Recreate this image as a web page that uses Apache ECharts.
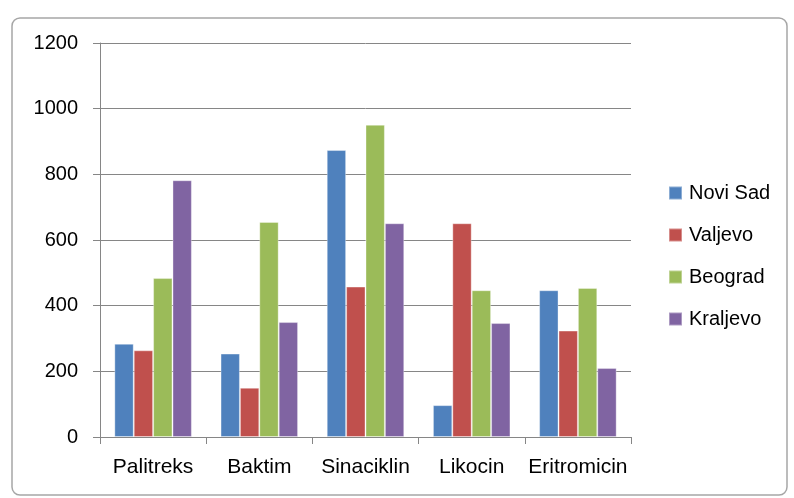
<!DOCTYPE html>
<html><head><meta charset="utf-8">
<script src="https://cdn.jsdelivr.net/npm/echarts@6/dist/echarts.min.js"></script>
<style>html,body{margin:0;padding:0;background:#fff}#c{width:794px;height:498px}</style>
</head><body><div id="c"></div>
<script>
const categories = ['Palitreks', 'Baktim', 'Sinaciklin', 'Likocin', 'Eritromicin'];
const seriesNames = ['Novi Sad', 'Valjevo', 'Beograd', 'Kraljevo'];
const noviSad = [284, 254, 874, 97, 447];
const valjevo = [264, 150, 458, 651, 324];
const beograd = [484, 655, 951, 447, 454];
const kraljevo = [782, 350, 651, 347, 210];
const yTicks = [0, 200, 400, 600, 800, 1000, 1200];
const colors = ['#4F81BD', '#C0504D', '#9BBB59', '#8064A2'];
const values = [noviSad, valjevo, beograd, kraljevo];
const font = 'Liberation Sans';

const chart = echarts.init(document.getElementById('c'), null, {renderer: 'canvas'});
chart.setOption({
  animation: false,
  backgroundColor: '#fff',
  color: colors,
  graphic: [{
    type: 'rect', shape: {x: 12, y: 18, width: 775, height: 477, r: 8},
    style: {fill: 'none', stroke: '#a6a6a6', lineWidth: 1.5}, z: -1
  }],
  grid: {left: 100, right: 163, top: 43, bottom: 61, containLabel: false},
  legend: {
    orient: 'vertical', left: 668, top: 183, padding: 0, itemWidth: 13, itemHeight: 13, itemGap: 22,
    icon: 'rect',
    textStyle: {fontFamily: font, fontSize: 20, color: '#000', padding: [0, 0, 0, 2]},
    data: seriesNames
  },
  xAxis: {
    type: 'category', data: categories,
    axisLine: {lineStyle: {color: '#868686', width: 1}},
    axisTick: {show: true, length: 7, lineStyle: {color: '#868686'}, alignWithLabel: false},
    axisLabel: {fontFamily: font, fontSize: 21, color: '#000', margin: 20, interval: 0}
  },
  yAxis: {
    type: 'value', min: yTicks[0], max: yTicks[yTicks.length - 1], interval: 200,
    axisLine: {show: true, lineStyle: {color: '#868686', width: 1}},
    axisTick: {show: true, length: 7, lineStyle: {color: '#868686'}},
    splitLine: {lineStyle: {color: '#868686', width: 1}},
    axisLabel: {fontFamily: font, fontSize: 20, color: '#000', margin: 22, formatter: v => String(v)}
  },
  series: seriesNames.map((n, i) => ({
    name: n, type: 'bar', data: values[i],
    barGap: '0%', barCategoryGap: '27%',
    itemStyle: {color: colors[i], borderColor: 'rgba(255,255,255,0.35)', borderWidth: 1}
  }))
});
</script></body></html>
